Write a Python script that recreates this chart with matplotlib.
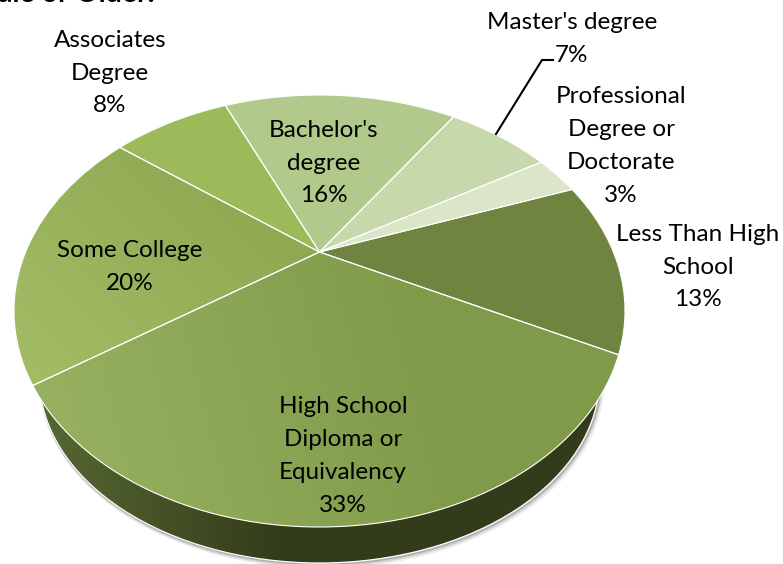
import numpy as np
import matplotlib
matplotlib.use("Agg")
import matplotlib.pyplot as plt
from matplotlib.colors import to_rgb
from matplotlib.patches import Ellipse, PathPatch
from matplotlib.transforms import Transform

categories = ["Less Than High\nSchool", "High School\nDiploma or\nEquivalency", "Some College",
              "Associates\nDegree", "Bachelor's\ndegree", "Master's degree", "Professional\nDegree or\nDoctorate"]
values = [13, 33, 20, 8, 16, 7, 3]
title_fragment = "ale or Older."

# colour ramps: (start colour, end colour, gradient start xy, gradient end xy)
ramps = [
    ("#6E8440", "#70863F", (340, 250), (625, 300)),
    ("#97B160", "#7F9B49", (40, 430), (430, 330)),
    ("#8FA953", "#A2BC66", (250, 200), (60, 390)),
    ("#9CBA5A", "#9DBB5B", (120, 100), (320, 250)),
    ("#B1CA8B", "#B2CB8C", (220, 100), (450, 250)),
    ("#C7D8AC", "#C8D9AD", (320, 100), (540, 250)),
    ("#DBE5C8", "#DBE5C8", (320, 100), (570, 250)),
]
label_pos = [(698, 267), (343, 456), (130, 267), (110, 73), (324, 163), (572, 39), (621, 146)]

W, H = 783, 564
CX, CY, A, B, SPOKE_Y = 319.5, 311.0, 305.5, 216.0, 252.0


class Tilt(Transform):
    """Perspective view of the unit pie disc, in pixel-like data units."""
    input_dims = output_dims = 2
    is_affine = False
    has_inverse = False

    def transform_non_affine(self, xy):
        xy = np.asarray(xy, float)
        m = (CY - SPOKE_Y) / B
        w = 1 + m * xy[:, 1]
        px = CX + A * np.sqrt(1 - m * m) * xy[:, 0] / w
        py = CY + (-(CY - SPOKE_Y) - B * xy[:, 1]) / w
        return np.column_stack([px, py])


plt.rcParams["font.family"] = ["Lato", "DejaVu Sans"]
fig = plt.figure(figsize=(W / 100, H / 100), dpi=100)
ax = fig.add_axes([0, 0, 1, 1])
wedges, _ = ax.pie(values, startangle=20, counterclock=False, normalize=True)
ax.set_aspect("auto")
ax.set_xlim(0, W)
ax.set_ylim(H, 0)
ax.axis("off")

tilt = Tilt() + ax.transData
yy, xx = np.mgrid[0:H, 0:W]


def ramp_image(c0, c1, p0, p1):
    d = np.array(p1, float) - np.array(p0, float)
    t = np.clip(((xx - p0[0]) * d[0] + (yy - p0[1]) * d[1]) / (d @ d), 0, 1)[..., None]
    return (1 - t) * np.array(to_rgb(c0)) + t * np.array(to_rgb(c1))


# side wall of the disc
wall_xy, wall_w, wall_h = (CX, 378), 560, 370
for off, lw, alpha in [((2.5, 3), 3.5, .10), ((1.5, 2), 2.5, .18), ((1, 1), 1.5, .3)]:
    ax.add_patch(Ellipse((wall_xy[0] + off[0], wall_xy[1] + off[1]), wall_w, wall_h, fc="none",
                         ec="#555555", lw=lw, alpha=alpha, zorder=1))
wall = Ellipse(wall_xy, wall_w, wall_h, fc="#333B1A", ec="none", zorder=1.2)
ax.add_patch(wall)
d = np.clip((xx - 40) / 240, 0, 1)[..., None]
img = (1 - d) * np.array(to_rgb("#566832")) + d * np.array(to_rgb("#333C1A"))
im = ax.imshow(img, extent=(0, W, H, 0), aspect="auto", zorder=1.3, interpolation="nearest")
im.set_clip_path(wall)
ax.add_patch(Ellipse(wall_xy, wall_w, wall_h, fc="none", ec="white", lw=0.9, zorder=1.4))

# top face
for wedge, (c0, c1, p0, p1) in zip(wedges, ramps):
    wedge.set_transform(tilt)
    wedge.set_facecolor(c0)
    wedge.set_edgecolor("none")
    wedge.set_zorder(2)
    im = ax.imshow(ramp_image(c0, c1, p0, p1), extent=(0, W, H, 0), aspect="auto",
                   zorder=2.1, interpolation="nearest")
    im.set_clip_path(wedge)
for wedge in wedges:
    ax.add_patch(PathPatch(wedge.get_path(), transform=wedge.get_patch_transform() + tilt,
                           fc="none", ec="white", lw=0.8, zorder=2.2))
ax.set_xlim(0, W)
ax.set_ylim(H, 0)

# labels
for cat, val, (x, y) in zip(categories, values, label_pos):
    ax.text(x, y, f"{cat}\n{val}%", ha="center", va="center", fontsize=17.5, color="black",
            linespacing=1.69, zorder=3)

# leader line for Master's degree
ax.plot([496, 542, 553], [134, 60, 60], color="black", lw=1.5, zorder=3, solid_joinstyle="miter")

ax.text(-2, 2.5, title_fragment, ha="left", va="baseline", fontsize=20.5, fontweight="bold",
        color="black", zorder=3, clip_on=True)

fig.savefig("out.png", dpi=100)
